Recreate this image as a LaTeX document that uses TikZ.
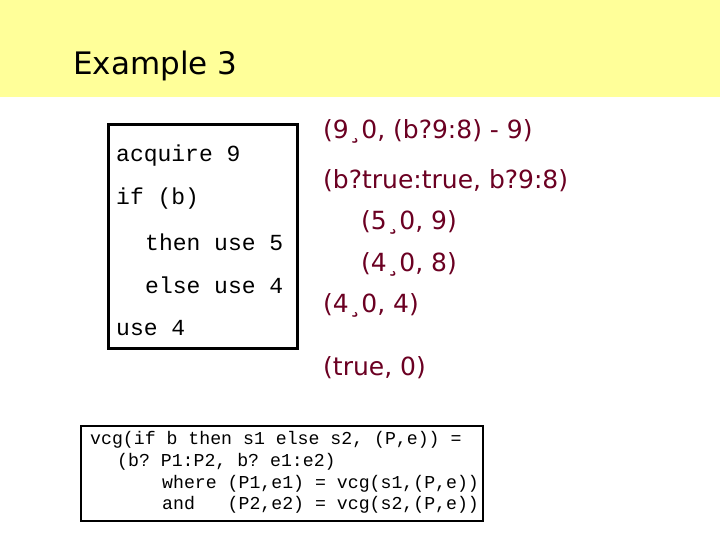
\documentclass[tikz,border=0pt]{standalone}
\usepackage{fontspec}
\setmainfont{DejaVu Sans}
\setmonofont{Liberation Mono}
\newfontfamily\comic{DejaVu Sans}
\definecolor{band}{HTML}{FFFF99}
\definecolor{dred}{HTML}{6B0022}
\begin{document}
\begin{tikzpicture}[x=1pt,y=-1pt,
  code/.style={anchor=west,font=\ttfamily\fontsize{23}{23}\selectfont,inner sep=0pt},
  small/.style={anchor=west,font=\ttfamily\fontsize{18.2}{18}\selectfont,inner sep=0pt},
  red/.style={anchor=west,text=dred,font=\comic\fontsize{25}{25}\selectfont,inner sep=0pt}]
\useasboundingbox (0,0) rectangle (720,540);
\fill[band] (0,0) rectangle (720,97);
\node[anchor=west,inner sep=0pt,font=\fontsize{31}{31}\selectfont] (title) at (73,66) {Example 3};
\draw[line width=3pt] (108,125) rectangle (297,348);
\node[code] (l1) at (116,156) {acquire 9};
\node[code] (l2) at (116,199) {if (b)};
\node[code] (l3) at (145,242) {then use 5};
\node[code] (l4) at (145,285) {else use 4};
\node[code] (l5) at (116,328) {use 4};
\node[red] (r1) at (323,131) {(9¸0, (b?9:8) - 9)};
\node[red] (r2) at (323,181) {(b?true:true, b?9:8)};
\node[red] (r3) at (361,222) {(5¸0, 9)};
\node[red] (r4) at (361,264) {(4¸0, 8)};
\node[red] (r5) at (323,305) {(4¸0, 4)};
\node[red] (r6) at (323,368) {(true, 0)};
\draw[line width=2pt] (81,426) rectangle (483,521);
\node[small] (b1) at (90,440) {vcg(if b then s1 else s2, (P,e)) =};
\node[small] (b2) at (117,462) {(b? P1:P2, b? e1:e2)};
\node[small] (b3) at (162,484) {where (P1,e1) = vcg(s1,(P,e))};
\node[small] (b4) at (162,505) {and\ \ \ (P2,e2) = vcg(s2,(P,e))};
\end{tikzpicture}
\end{document}
